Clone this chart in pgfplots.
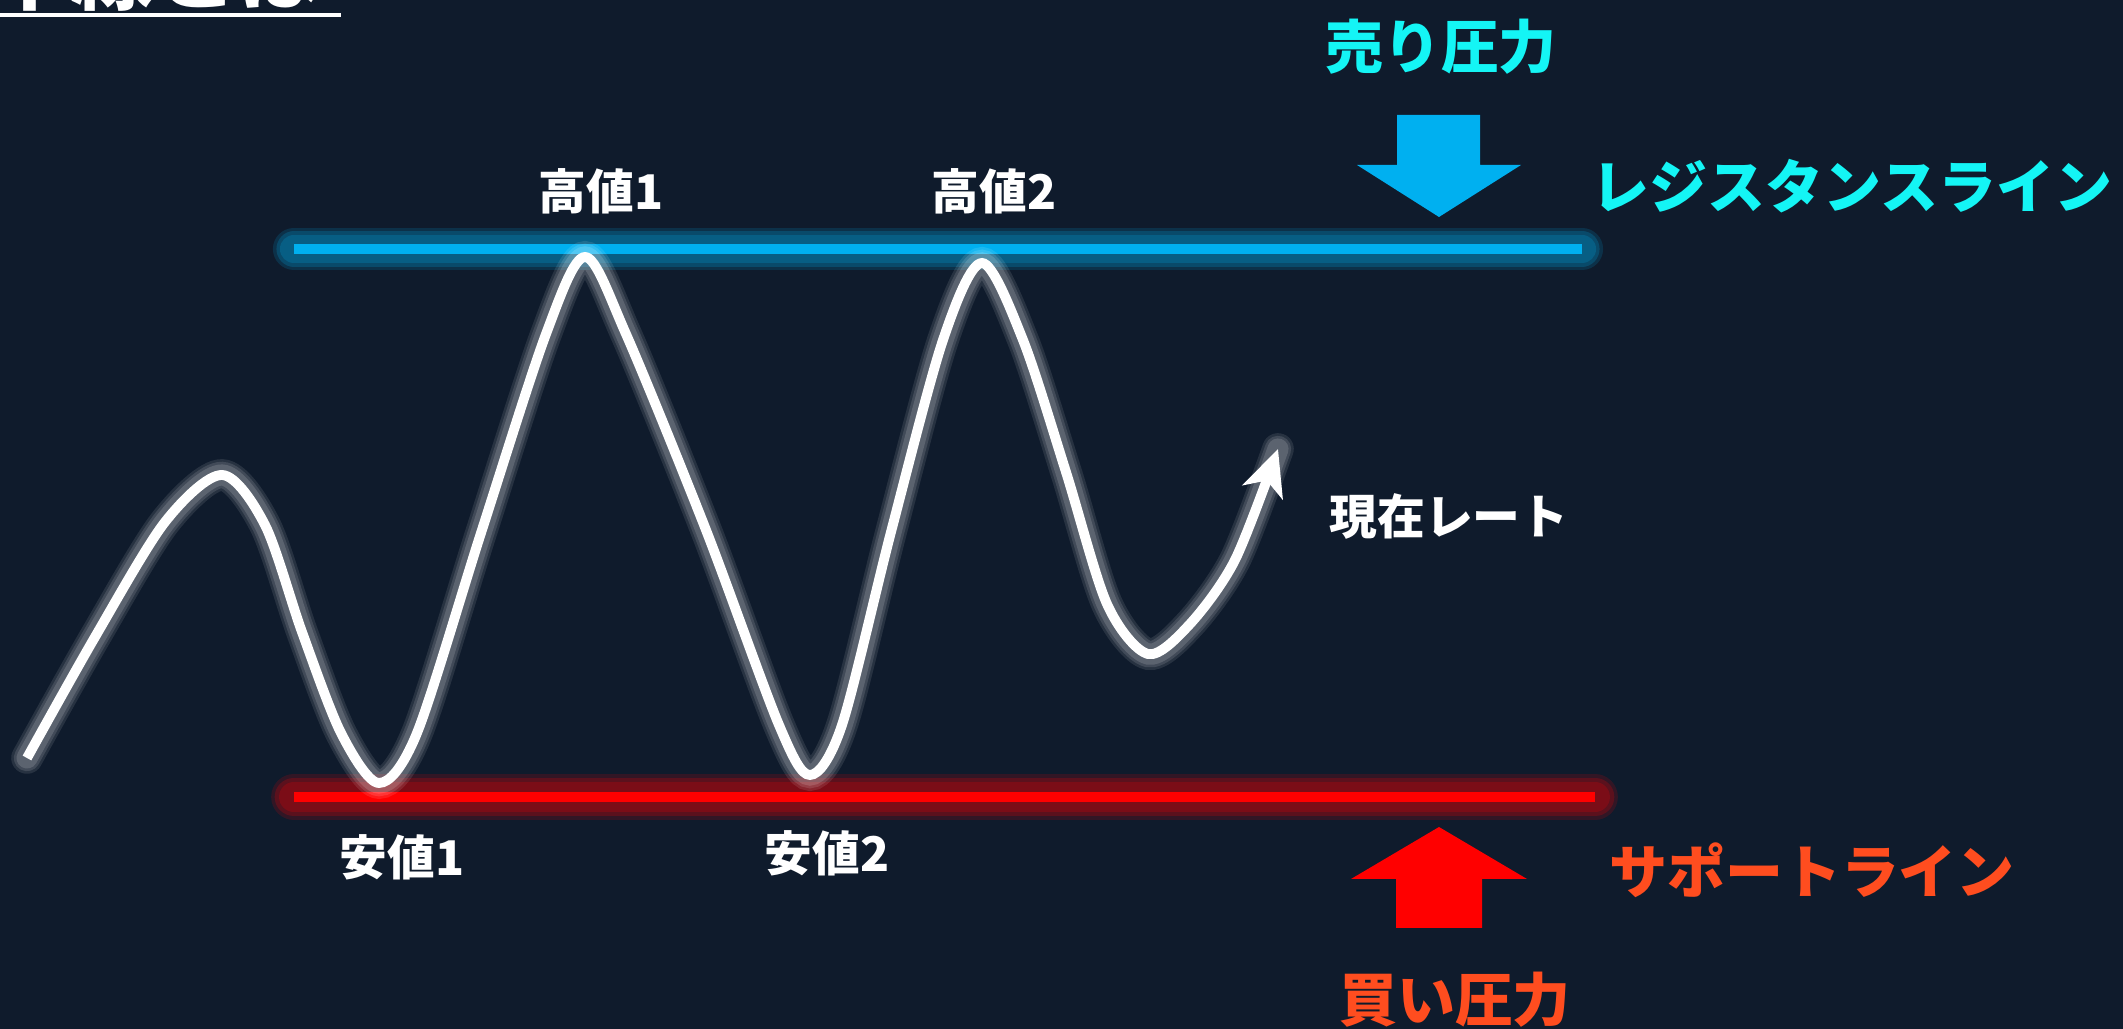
\documentclass[border=0pt]{standalone}
\usepackage{pgfplots}
\pgfplotsset{compat=1.18}
\usepackage{pgfplotstable}
\usepackage{fontspec}
\setmainfont{Noto Sans CJK JP}
\usetikzlibrary{arrows.meta}

\definecolor{bg}{HTML}{0F1B2C}
\definecolor{resblue}{HTML}{00B0F0}
\definecolor{supred}{HTML}{FF0000}
\definecolor{cyantxt}{HTML}{14F5F5}
\definecolor{orangetxt}{HTML}{FF4D1F}

% price path, in pixel units (y grows downward)
\pgfplotstableread{
x y
27 758
95 637
165 522
222 475
265 525
302 632
341 733
379 783
417 733
481 533
546 334
585 257
626 334
706 530
779 725
810 775
842 725
891 532
943 340
982 263
1023 340
1066 472
1107 604
1148 654
1190 624
1235 560
1278 449
}\pricecurve

\pgfplotsset{
  resglow/.style={draw=resblue, line cap=round},
  supglow/.style={draw=supred, line cap=round},
  curveglow/.style={draw=white, smooth, line cap=round},
}

\begin{document}
\begin{tikzpicture}
\useasboundingbox (0,0) rectangle (21.23cm,10.29cm);
\clip (0,0) rectangle (21.23cm,10.29cm);
\fill[bg] (0,0) rectangle (21.23cm,10.29cm);
\begin{axis}[
    at={(0,0)}, anchor=south west,
    width=21.23cm, height=10.29cm, scale only axis,
    xmin=0, xmax=2123, ymin=0, ymax=1029,
    y dir=reverse,
    hide axis, clip=false,
]
% title (cut off at the top, as in the source)
\node[anchor=base east, text=white, font=\bfseries\fontsize{23.6}{26}\selectfont]
    at (axis cs:333,4) {水平線とは};
\fill[white] (axis cs:0,13) rectangle (axis cs:341,17);

% resistance line with soft glow
\addplot[resglow, opacity=0.15, line width=12pt] coordinates {(294,249) (1582,249)};
\addplot[resglow, opacity=0.20, line width=10pt] coordinates {(294,249) (1582,249)};
\addplot[resglow, opacity=0.20, line width=8pt] coordinates {(294,249) (1582,249)};
\addplot[draw=resblue, line width=2.8pt] coordinates {(294,249) (1582,249)};

% support line with soft glow
\addplot[supglow, opacity=0.15, line width=13pt] coordinates {(294,797) (1595,797)};
\addplot[supglow, opacity=0.20, line width=11pt] coordinates {(294,797) (1595,797)};
\addplot[supglow, opacity=0.20, line width=8.5pt] coordinates {(294,797) (1595,797)};
\addplot[draw=supred, line width=2.6pt] coordinates {(294,797) (1595,797)};

% price path with soft glow
\addplot[curveglow, opacity=0.10, line width=9pt] table {\pricecurve};
\addplot[curveglow, opacity=0.12, line width=7.5pt] table {\pricecurve};
\addplot[curveglow, opacity=0.14, line width=6pt] table {\pricecurve};
\addplot[draw=white, line width=2.8pt, smooth, -{Stealth[length=13pt,width=12pt,inset=3.5pt]}] table {\pricecurve};

% pressure arrows
\fill[resblue] (axis cs:1397,115) -- (axis cs:1480,115) -- (axis cs:1480,165) -- (axis cs:1521,165)
    -- (axis cs:1439,217) -- (axis cs:1357,165) -- (axis cs:1397,165) -- cycle;
\fill[supred] (axis cs:1396,928) -- (axis cs:1482,928) -- (axis cs:1482,879) -- (axis cs:1527,879)
    -- (axis cs:1439,827) -- (axis cs:1351,879) -- (axis cs:1396,879) -- cycle;

% labels
\tikzset{lbl/.style={text=white, font=\bfseries\fontsize{13.6}{16}\selectfont}}
\node[lbl] at (axis cs:601,191) {高値1};
\node[lbl] at (axis cs:994,191) {高値2};
\node[lbl] at (axis cs:402,857) {安値1};
\node[lbl] at (axis cs:827,853) {安値2};
\node[lbl] at (axis cs:1449,516) {現在レート};

\tikzset{big/.style={font=\bfseries\fontsize{16.5}{19}\selectfont}}
\node[big, text=cyantxt] at (axis cs:1441,47) {売り圧力};
\node[big, text=cyantxt] at (axis cs:1852,186) {レジスタンスライン};
\node[big, text=orangetxt] at (axis cs:1812,870) {サポートライン};
\node[big, text=orangetxt] at (axis cs:1455,1000) {買い圧力};
\end{axis}
\end{tikzpicture}
\end{document}
